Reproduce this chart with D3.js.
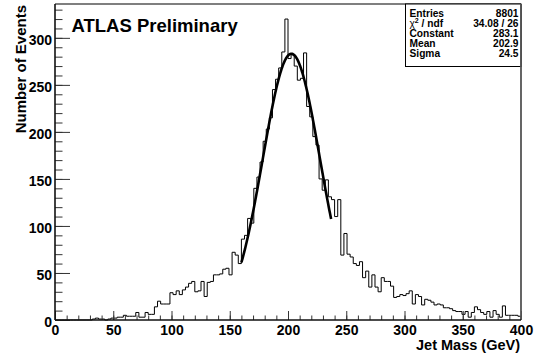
<!DOCTYPE html>
<html>
<head>
<meta charset="utf-8">
<script src="https://cdn.jsdelivr.net/npm/d3@7/dist/d3.min.js"></script>
<style>
  html, body { margin: 0; padding: 0; background: #fff; }
  svg { display: block; font-family: "Liberation Sans", Arial, Helvetica, sans-serif; }
</style>
</head>
<body>
<svg id="chart" width="534" height="360"></svg>
<script>
// ---- data ----
const binRange = [0, 400];
const nBins = 150;
const counts = [
  0,0,0,0,0,0,0,0,0,0,
  0,0,1,2,1,1,0,1,2,2,
  3,3,5,4,4,4,8,3,3,8,
  6,6,14,20,17,17,17,29,27,31,
  27,32,35,39,41,30,31,41,25,40,
  41,48,48,49,54,55,48,72,69,60,
  86,90,108,103,140,152,168,190,203,215,
  245,256,268,285,320,278,282,270,255,257,
  284,227,216,195,186,150,138,149,131,128,
  110,128,69,92,70,67,60,58,62,45,
  52,35,48,35,30,45,41,41,36,24,
  25,27,26,28,31,17,27,25,16,22,
  21,19,16,17,16,13,13,12,10,9,
  9,6,9,3,8,14,11,8,6,9,
  3,10,6,3,15,5,5,5,5,4
];
const fitParams = [283.1, 202.9, 24.5];   // constant, mean, sigma
const fitRange = [160, 237];
const statLabels = ["Entries", "CHI", "Constant", "Mean", "Sigma"];
const statValues = ["8801", "34.08 / 26", "283.1", "202.9", "24.5"];
const xMajor = [0, 50, 100, 150, 200, 250, 300, 350, 400];
const yMajor = [0, 50, 100, 150, 200, 250, 300];

// ---- layout ----
const svg = d3.select("#chart");
const L = 55, R = 521, T = 4, B = 320;
const x = d3.scaleLinear().domain([0, 400]).range([L, R]);
const y = d3.scaleLinear().domain([0, 336]).range([B, T]);
const FONT = '"Liberation Sans", Arial, Helvetica, sans-serif';

// histogram step outline
const bw = (binRange[1] - binRange[0]) / nBins;
const path = d3.path();
path.moveTo(x(binRange[0]), y(0));
counts.forEach((c, i) => {
  const lo = binRange[0] + i * bw, hi = lo + bw;
  path.lineTo(x(lo), y(c));
  path.lineTo(x(hi), y(c));
});
path.lineTo(x(binRange[1]), y(0));
svg.append("path").attr("d", path.toString())
  .attr("fill", "none").attr("stroke", "#000").attr("stroke-width", 1);

// fit curve
const [A, mu, sg] = fitParams;
const fitPts = d3.range(fitRange[0], fitRange[1] + 0.001, 0.5)
  .map(m => [m, A * Math.exp(-((m - mu) ** 2) / (2 * sg * sg))]);
svg.append("path")
  .attr("d", d3.line().x(d => x(d[0])).y(d => y(d[1]))(fitPts))
  .attr("fill", "none").attr("stroke", "#000").attr("stroke-width", 2.6)
  .attr("stroke-linejoin", "round");

// axes (ticks inward)
const yMinor = d3.range(0, 336, 10);
const xMinor = d3.range(0, 401, 10);
const gy = svg.append("g").attr("transform", `translate(${L},0)`);
gy.call(d3.axisLeft(y).tickValues(yMinor).tickSize(-7.5).tickFormat(""));
gy.call(g => g.selectAll(".domain").remove());
const gyM = svg.append("g").attr("transform", `translate(${L},0)`);
gyM.call(d3.axisLeft(y).tickValues(yMajor).tickSize(-15).tickPadding(3).tickFormat(d3.format("d")));
gyM.select(".domain").remove();
gyM.selectAll("text").attr("font-size", 14).attr("font-weight", "bold")
  .attr("font-family", FONT).attr("fill", "#000").attr("dy", "0.46em");

const gx = svg.append("g").attr("transform", `translate(0,${B})`);
gx.call(d3.axisBottom(x).tickValues(xMinor).tickSize(-4.5).tickFormat(""));
gx.select(".domain").remove();
const gxM = svg.append("g").attr("transform", `translate(0,${B})`);
gxM.call(d3.axisBottom(x).tickValues(xMajor).tickSize(-9).tickPadding(5.5).tickFormat(d3.format("d")));
gxM.select(".domain").remove();
gxM.selectAll("text").attr("font-size", 14).attr("font-weight", "bold")
  .attr("font-family", FONT).attr("fill", "#000");
svg.selectAll(".tick line").attr("stroke", "#333");

// frame
svg.append("line").attr("x1", L).attr("x2", R).attr("y1", T).attr("y2", T)
  .attr("stroke", "#555").attr("stroke-width", 1.6);
svg.append("line").attr("x1", R).attr("x2", R).attr("y1", T).attr("y2", B)
  .attr("stroke", "#555").attr("stroke-width", 1.8);
svg.append("line").attr("x1", L).attr("x2", L).attr("y1", T).attr("y2", B)
  .attr("stroke", "#111").attr("stroke-width", 1.6);
svg.append("line").attr("x1", L).attr("x2", R).attr("y1", B).attr("y2", B)
  .attr("stroke", "#111").attr("stroke-width", 1.6);

// stat box
svg.append("rect").attr("x", 405.5).attr("y", T).attr("width", R - 405.5).attr("height", 62.5)
  .attr("fill", "#fff").attr("stroke", "#000").attr("stroke-width", 1);
svg.append("line").attr("x1", R).attr("x2", R).attr("y1", T).attr("y2", 67)
  .attr("stroke", "#555").attr("stroke-width", 1.8);
const rowY = [16.5, 27, 37.3, 47.3, 57.3];
statLabels.forEach((lab, i) => {
  const t = svg.append("text").attr("x", 409.5).attr("y", rowY[i])
    .attr("font-size", 10.2).attr("font-weight", "bold").attr("fill", "#000");
  if (lab === "CHI") {
    t.append("tspan").attr("font-weight", "normal").text("χ");
    t.append("tspan").attr("font-size", 7).attr("dy", -4).text("2");
    t.append("tspan").attr("dy", 4).text(" / ndf");
  } else {
    t.text(lab);
  }
  svg.append("text").attr("x", 518.5).attr("y", rowY[i]).attr("text-anchor", "end")
    .attr("font-size", 10.2).attr("font-weight", "bold").attr("fill", "#000")
    .text(statValues[i]);
});

// titles
svg.append("text").attr("x", 71.5).attr("y", 31.5)
  .attr("font-size", 18.5).attr("font-weight", "bold").attr("fill", "#000")
  .text("ATLAS Preliminary");
svg.append("text").attr("transform", "translate(25.5,5) rotate(-90)")
  .attr("text-anchor", "end").attr("font-size", 15).attr("font-weight", "bold")
  .attr("fill", "#000").text("Number of Events");
svg.append("text").attr("x", 520).attr("y", 350).attr("text-anchor", "end")
  .attr("font-size", 14.5).attr("font-weight", "bold").attr("fill", "#000")
  .text("Jet Mass (GeV)");
</script>
</body>
</html>
